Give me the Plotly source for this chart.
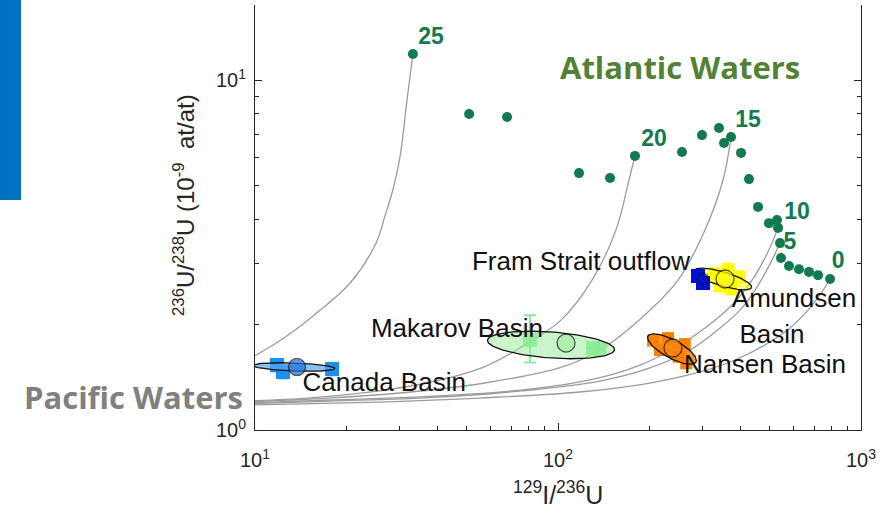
import numpy as np
import plotly.graph_objects as go

# ---------------- data ----------------
# Atlantic Waters points (129I/236U, 236U/238U 1e-9 at/at)
atl_x = [33.2, 50.9, 67.9, 117.3, 148.5, 179.5, 256.6, 298.7, 339.9, 353.1, 372.4, 401.8,
         427.0, 457.3, 497.0, 528.2, 532.3, 540.4, 544.5, 578.6, 624.3, 673.5, 721.5, 790.4]
atl_y = [11.87, 8.0, 7.84, 5.42, 5.25, 6.07, 6.23, 6.96, 7.29, 6.61, 6.87, 6.19,
         5.21, 4.34, 3.90, 3.98, 3.78, 3.42, 3.10, 2.94, 2.88, 2.83, 2.77, 2.70]

# endpoint labels (years)
lab_text = ["25", "20", "15", "10", "5", "0"]
lab_x = [38.1, 207.4, 423.8, 614.9, 583.1, 839.9]
lab_y = [13.18, 6.74, 7.64, 4.17, 3.42, 3.02]

# mixing curves
curve25_x = [33.2, 31.75, 30.1, 28.5, 26.9, 25.1, 20.6, 16.1, 12.56, 10.5, 9.27]
curve25_y = [11.87, 8.77, 6.03, 4.85, 4.11, 3.42, 2.63, 2.17, 1.84, 1.67, 1.58]
curve20_x = [179.5, 171.5, 155.4, 129.5, 102.3, 76.1, 56.6, 36.4, 23.4, 14.96, 9.27]
curve20_y = [6.07, 5.18, 3.73, 2.68, 2.06, 1.73, 1.51, 1.36, 1.28, 1.234, 1.21]
curve15_x = [372.4, 350.4, 305.6, 248.9, 185.1, 137.6, 102.3, 56.6, 31.5, 17.4, 9.27]
curve15_y = [6.87, 5.18, 3.73, 2.68, 2.06, 1.693, 1.51, 1.36, 1.28, 1.234, 1.202]
curve10_x = [532.3, 493.3, 436.9, 369.6, 305.6, 252.7, 186.5, 127.5, 74.9, 35.0, 17.7, 9.27]
curve10_y = [3.78, 3.23, 2.68, 2.245, 1.956, 1.75, 1.533, 1.39, 1.30, 1.243, 1.218, 1.194]
curve5_x = [540.4, 504.6, 453.8, 398.8, 329.8, 272.7, 201.2, 137.6, 74.9, 35.0, 17.7, 9.27]
curve5_y = [3.42, 3.02, 2.56, 2.20, 1.905, 1.693, 1.504, 1.38, 1.292, 1.234, 1.21, 1.187]
curve0_x = [790.4, 743.7, 668.4, 583.1, 482.2, 383.9, 294.1, 201.2, 118.2, 55.3, 25.9, 14.07, 9.27]
curve0_y = [2.70, 2.48, 2.20, 1.956, 1.75, 1.585, 1.465, 1.362, 1.284, 1.234, 1.202, 1.187, 1.179]

# basin samples
canada_x = [11.82, 12.37, 17.96]
canada_y = [1.533, 1.465, 1.494]
makarov_x = [80.8, 130.5, 137.0]
makarov_y = [1.808, 1.715, 1.70]
makarov_err_plus = [0.32, 0.0, 0.0]
makarov_err_minus = [0.25, 0.0, 0.0]
fram_x = [289.7, 301.0]
fram_y = [2.754, 2.63]
amund_x = [330.0, 372.0, 395.0, 342.5, 364.0]
amund_y = [2.80, 2.53, 2.74, 2.58, 2.88]
nansen_x = [206.0, 230.7, 262.0, 250.0, 265.0, 217.1]
nansen_y = [1.80, 1.83, 1.76, 1.62, 1.55, 1.693]

# basin means
mean_names = ["Canada", "Makarov", "Fram", "Amundsen", "Nansen"]
mean_x = [13.76, 106.3, 301.0, 355.8, 239.6]
mean_y = [1.514, 1.772, 2.70, 2.70, 1.715]

# ellipses: centre (log10 x, log10 y), two axis vectors in decades
ell_cx = [1.1287, 1.9769, 2.5446, 2.3762]
ell_cy = [0.18, 0.2429, 0.4314, 0.2314]
ell_u = [(0.1353, -0.0043), (0.2096, -0.0129), (0.0941, -0.0243), (0.0792, -0.0371)]
ell_v = [(0.0, 0.0114), (0.0, 0.0371), (-0.0066, -0.0191), (-0.0142, -0.0226)]
ell_fill = ["rgba(90,165,240,0.7)", "rgba(150,235,150,0.5)",
            "rgba(255,255,0,0.55)", "rgba(255,128,0,0.8)"]

# region labels
reg_text = ["Fram Strait outflow", "Makarov Basin", "Canada Basin", "Amundsen", "Basin", "Nansen Basin"]
reg_x = [119.1, 46.4, 26.7, 601.0, 508.5, 482.2]
reg_y = [3.0, 1.93, 1.345, 2.35, 1.844, 1.514]

# ---------------- figure ----------------
FONT = "Arial, Liberation Sans, sans-serif"
GREEN = "#117a4e"
fig = go.Figure()

curves = [(curve25_x, curve25_y), (curve20_x, curve20_y), (curve15_x, curve15_y),
          (curve10_x, curve10_y), (curve5_x, curve5_y), (curve0_x, curve0_y)]
for cx, cy in curves:
    fig.add_trace(go.Scatter(x=cx, y=cy, mode="lines", line=dict(color="#9c9c9c", width=1.3, shape="spline"),
                             hoverinfo="skip", showlegend=False))

# sample squares
fig.add_trace(go.Scatter(x=canada_x, y=canada_y, mode="markers",
                         marker=dict(symbol="square", size=14, color="#1f8fef"),
                         error_y=dict(type="constant", value=0.06, color="#1f8fef", thickness=2, width=5),
                         showlegend=False))
fig.add_trace(go.Scatter(x=makarov_x, y=makarov_y, mode="markers",
                         marker=dict(symbol="square", size=14, color="rgba(120,235,140,0.8)"),
                         error_y=dict(type="data", array=makarov_err_plus, arrayminus=makarov_err_minus,
                                      color="rgba(120,235,150,0.9)", thickness=2, width=6),
                         showlegend=False))
fig.add_trace(go.Scatter(x=amund_x, y=amund_y, mode="markers",
                         marker=dict(symbol="square", size=13, color="#ffff00"), showlegend=False))
fig.add_trace(go.Scatter(x=nansen_x, y=nansen_y, mode="markers",
                         marker=dict(symbol="square", size=12, color="#ff7f00"), showlegend=False))

# ellipses
t = np.linspace(0, 2 * np.pi, 120)
for cx, cy, u, v, fc in zip(ell_cx, ell_cy, ell_u, ell_v, ell_fill):
    lx = cx + u[0] * np.cos(t) + v[0] * np.sin(t)
    ly = cy + u[1] * np.cos(t) + v[1] * np.sin(t)
    fig.add_trace(go.Scatter(x=10 ** lx, y=10 ** ly, mode="lines", fill="toself", fillcolor=fc,
                             line=dict(color="#111111", width=1.3), hoverinfo="skip", showlegend=False))

fig.add_trace(go.Scatter(x=fram_x, y=fram_y, mode="markers",
                         marker=dict(symbol="square", size=14, color="#0010d0"), showlegend=False))

# mean circles
mean_colors = ["#1f6fd6", "rgba(150,235,150,0.7)", "#0010d0", "#ffff00", "#ff7f00"]
mean_sizes = [17, 18, 11, 18, 18]
fig.add_trace(go.Scatter(x=mean_x, y=mean_y, mode="markers",
                         marker=dict(symbol="circle", size=mean_sizes, color=mean_colors,
                                     line=dict(color="#111111", width=1.3)), showlegend=False))

# Atlantic points
fig.add_trace(go.Scatter(x=atl_x, y=atl_y, mode="markers",
                         marker=dict(symbol="circle", size=10, color=GREEN), showlegend=False))
fig.add_trace(go.Scatter(x=lab_x, y=lab_y, mode="text", text=lab_text,
                         textfont=dict(family=FONT, size=23, color=GREEN, weight="bold"),
                         showlegend=False))

# region labels
fig.add_trace(go.Scatter(x=reg_x, y=reg_y, mode="text", text=reg_text,
                         textfont=dict(family=FONT, size=26, color="#111111"), showlegend=False))

dec = lambda a, b: [m * 10 ** e for e in range(a, b) for m in range(2, 10)]
axis_common = dict(type="log", showgrid=False, zeroline=False, showline=True, linecolor="#262626",
                   linewidth=1, ticks="inside", ticklen=7, tickcolor="#262626",
                   tickfont=dict(family=FONT, size=20, color="#262626"))
fig.update_xaxes(range=[1, 3], tickvals=[10, 100, 1000],
                 ticktext=["10<sup>1</sup>", "10<sup>2</sup>", "10<sup>3</sup>"],
                 ticklabelstandoff=12,
                 minor=dict(ticks="inside", ticklen=4, tickcolor="#262626", tickmode="array",
                            tickvals=dec(1, 3)), **axis_common)
fig.update_yaxes(range=[0, 1.2143], tickvals=[1, 10], ticktext=["10<sup>0</sup>", "10<sup>1</sup>"],
                 mirror="ticks", ticklabelstandoff=4,
                 minor=dict(ticks="inside", ticklen=4, tickcolor="#262626", tickmode="array",
                            tickvals=dec(0, 1)), **axis_common)

W, H = 893, 509
L, R, T, B = 255, 861, 5, 430
px = lambda x: (x - L) / (R - L)
py = lambda y: (B - y) / (B - T)

fig.update_layout(
    width=W, height=H, margin=dict(l=L, r=W - R, t=T, b=H - B),
    paper_bgcolor="white", plot_bgcolor="white",
    shapes=[dict(type="rect", xref="paper", yref="paper", x0=px(0), x1=px(21), y0=py(200), y1=py(-2),
                 fillcolor="#0070c0", line=dict(width=0), layer="above")],
    annotations=[
        dict(text="Atlantic Waters", xref="paper", yref="paper", x=px(680), y=py(67), showarrow=False,
             font=dict(family="Open Sans, Lato, sans-serif", size=31, color="#548235", weight="bold"),
             xanchor="center", yanchor="middle"),
        dict(text="Pacific Waters", xref="paper", yref="paper", x=px(245), y=py(397), showarrow=False,
             font=dict(family="Open Sans, Lato, sans-serif", size=31, color="#808080", weight="bold"),
             xanchor="right", yanchor="middle"),
        dict(text="<sup>129</sup>I/<sup>236</sup>U", xref="paper", yref="paper", x=px(558), y=py(493),
             showarrow=False, font=dict(family=FONT, size=25, color="#262626"),
             xanchor="center", yanchor="middle"),
        dict(text="<sup>236</sup>U/<sup>238</sup>U (10<sup>-9</sup>  at/at)", xref="paper", yref="paper",
             x=px(184), y=py(205), showarrow=False, textangle=-90,
             font=dict(family=FONT, size=24, color="#262626"), xanchor="center", yanchor="middle"),
    ],
)

fig.write_html("out.html")
